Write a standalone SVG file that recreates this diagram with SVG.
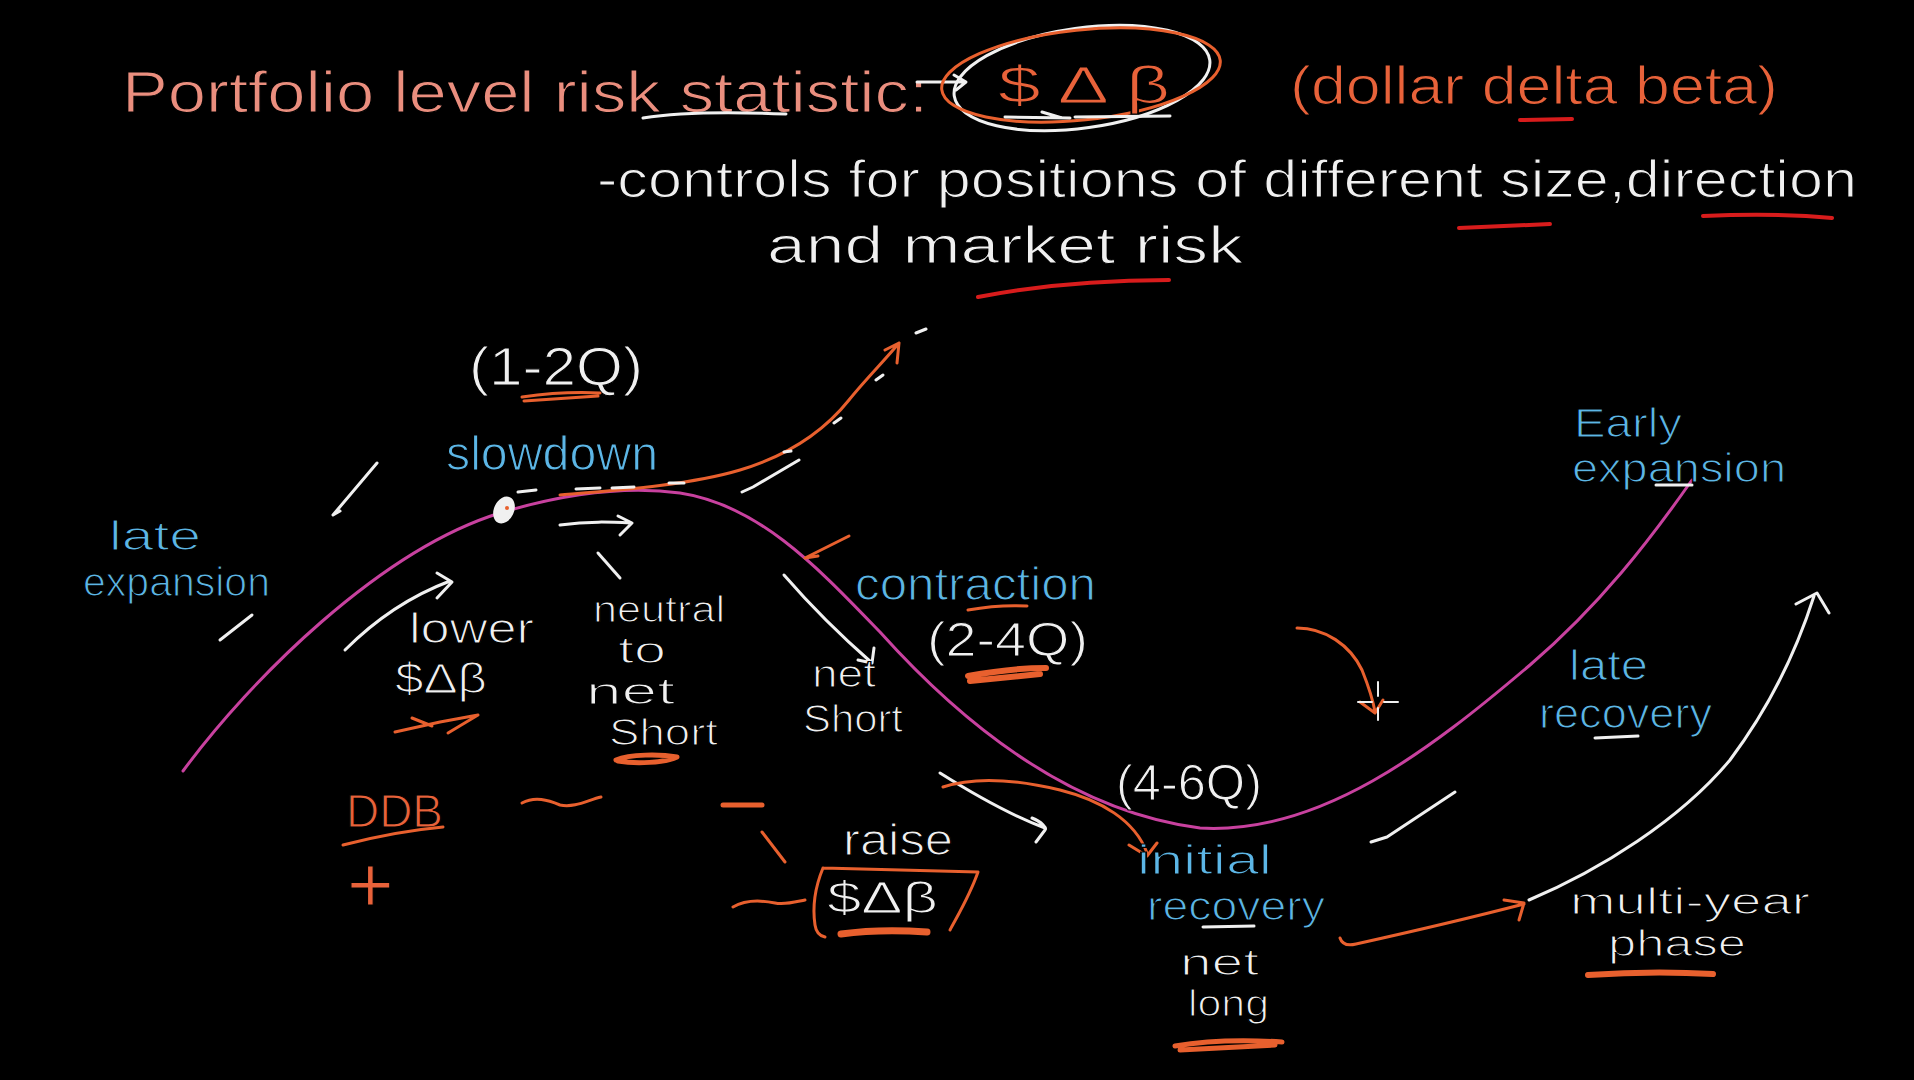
<svg xmlns="http://www.w3.org/2000/svg" width="1914" height="1080" viewBox="0 0 1914 1080">
<style>
text{font-family:"Liberation Sans",Arial,sans-serif;stroke:#000;stroke-width:1.2}
.w{fill:#f0f0f0}.b{fill:#5cb6e6}.o{fill:#e8623a}.s{fill:#ea8e7e}
.lw,.lo,.lr,.lp{fill:none;stroke-linecap:round;stroke-linejoin:round}
.lw{stroke:#f0f0f0;stroke-width:3}
.lo{stroke:#e8602e;stroke-width:3}
.lr{stroke:#d81c1c;stroke-width:4}
.lp{stroke:#c8419f;stroke-width:3}
.th{stroke-width:6}
</style>
<rect width="1914" height="1080" fill="#000"/>

<g id="title">
<text class="s" x="122" y="112" font-size="58" textLength="806" lengthAdjust="spacingAndGlyphs">Portfolio level risk statistic:</text>
<path class="lw" d="M643,118 C680,112 740,112 786,114"/>
<path class="lw" d="M917,82 L962,82 M954,75 L966,82 L956,90"/>
</g>

<g id="ddb-symbol">
<ellipse class="lw" cx="1082" cy="78" rx="129" ry="50" transform="rotate(-8 1082 78)"/>
<ellipse class="lo" cx="1081" cy="75" rx="140" ry="45" transform="rotate(-6 1081 75)"/>
<text class="o" x="998" y="103" font-size="52" textLength="172" lengthAdjust="spacingAndGlyphs">$ Δ β</text>
<path class="lw" d="M1005,117 L1070,118 M1042,112 L1062,118 M1075,117 L1170,116"/>
<text class="o" x="1290" y="104" font-size="54" textLength="488" lengthAdjust="spacingAndGlyphs">(dollar delta beta)</text>
<path class="lr" d="M1520,120 L1572,119"/>
</g>

<g id="subtitle">
<text class="w" x="597" y="197" font-size="52" textLength="1260" lengthAdjust="spacingAndGlyphs">-controls for positions of different size,direction</text>
<text class="w" x="767" y="263" font-size="52" textLength="476" lengthAdjust="spacingAndGlyphs">and market risk</text>
<path class="lr" d="M1459,228 L1550,224 M1703,216 C1750,214 1800,215 1832,218 M978,297 C1040,285 1110,280 1169,280"/>
</g>

<g id="connectors">
<path class="lp" d="M183,771 C250,680 380,550 500,513 C560,495 620,485 680,493 C760,505 820,570 880,632 C950,710 1060,810 1200,828 C1320,835 1430,750 1530,665 C1600,605 1650,540 1692,480"/>
<path class="lo" d="M560,495 C620,490 690,485 740,470 C790,455 825,430 849,400 C865,380 885,360 899,343 M885,350 L899,343 L897,363"/>
<path class="lw" d="M669,483 L684,483 M784,452 L791,451 M834,423 L841,418 M876,380 L883,375 M916,333 L926,329 M518,492 L536,490 M576,489 L600,488 M612,488 L634,487"/>
<path class="lw" d="M742,492 L753,487 L799,460"/>
<ellipse cx="504" cy="510" rx="10" ry="14" fill="#f0f0f0" transform="rotate(25 504 510)"/>
<circle cx="507" cy="508" r="2" fill="#e8602e"/>
<path class="lw" d="M560,525 C590,521 610,522 632,523 M618,516 L632,523 L620,535"/>
<path class="lw" d="M598,553 L620,578"/>
<path class="lw" d="M377,463 L333,515 L340,511"/>
<path class="lw" d="M220,640 L252,615"/>
<path class="lw" d="M345,650 C370,625 405,598 450,581 M437,573 L452,582 L437,598"/>
<path class="lo" d="M395,732 L440,722 M412,718 L432,726 M440,722 L478,715 L448,733"/>
<path class="lo" d="M849,536 L805,558 L818,556"/>
<path class="lw" d="M784,575 C810,605 840,635 872,663 M872,663 L874,648 M872,663 L858,660"/>
<path class="lw" d="M940,773 C975,795 1010,815 1045,828 M1032,818 C1042,822 1047,828 1045,830 L1036,842"/>
<path class="lo" d="M943,787 C970,778 1010,778 1060,790 C1100,800 1135,820 1147,853 M1129,845 L1147,856 L1157,843"/>
<path class="lw" d="M1371,842 L1387,837 L1455,792"/>
<path class="lo" d="M1297,628 C1325,628 1350,645 1362,670 C1370,690 1373,700 1375,712 M1360,702 L1375,713 L1383,700"/>
<path class="lw" style="stroke-width:2" d="M1378,682 L1378,696 M1378,708 L1378,720 M1358,702 L1372,702 M1384,702 L1398,702"/>
<path class="lo" d="M1340,938 C1342,944 1348,946 1356,944 C1410,932 1470,918 1524,904 M1504,900 L1524,903 L1519,920"/>
<path class="lw" d="M1529,900 C1600,870 1680,820 1730,760 C1775,700 1800,640 1814,596 M1796,604 L1817,593 L1829,613"/>
</g>

<g id="slowdown">
<text class="w" x="469" y="385" font-size="54" textLength="174" lengthAdjust="spacingAndGlyphs">(1-2Q)</text>
<path class="lo" d="M522,397 C550,393 580,392 600,393 M524,401 L598,396"/>
<text class="b" x="446" y="470" font-size="48" textLength="212" lengthAdjust="spacingAndGlyphs">slowdown</text>
</g>

<g id="late-expansion">
<text class="b" x="109" y="550" font-size="40" textLength="92" lengthAdjust="spacingAndGlyphs">late</text>
<text class="b" x="83" y="596" font-size="40" textLength="187" lengthAdjust="spacingAndGlyphs">expansion</text>
</g>

<g id="lower">
<text class="w" x="409" y="643" font-size="42" textLength="125" lengthAdjust="spacingAndGlyphs">lower</text>
<text class="w" x="395" y="693" font-size="42" textLength="92" lengthAdjust="spacingAndGlyphs">$Δβ</text>
</g>

<g id="neutral">
<text class="w" x="593" y="622" font-size="36" textLength="132" lengthAdjust="spacingAndGlyphs">neutral</text>
<text class="w" x="618" y="663" font-size="36" textLength="48" lengthAdjust="spacingAndGlyphs">to</text>
<text class="w" x="586" y="704" font-size="36" textLength="89" lengthAdjust="spacingAndGlyphs">net</text>
<text class="w" x="609" y="745" font-size="36" textLength="109" lengthAdjust="spacingAndGlyphs">Short</text>
<path class="lo" style="stroke-width:5" d="M616,760 C630,754 660,754 677,757 C665,763 635,764 618,761"/>
</g>

<g id="net-short">
<text class="w" x="812" y="687" font-size="38" textLength="64" lengthAdjust="spacingAndGlyphs">net</text>
<text class="w" x="803" y="732" font-size="38" textLength="100" lengthAdjust="spacingAndGlyphs">Short</text>
</g>

<g id="contraction">
<text class="b" x="855" y="600" font-size="46" textLength="241" lengthAdjust="spacingAndGlyphs">contraction</text>
<path class="lo" d="M968,610 C990,606 1010,605 1027,606"/>
<text class="w" x="927" y="656" font-size="48" textLength="161" lengthAdjust="spacingAndGlyphs">(2-4Q)</text>
<path class="lo th" d="M968,676 C1000,670 1030,668 1046,668 M970,681 L1040,674"/>
</g>

<g id="early-expansion">
<text class="b" x="1574" y="437" font-size="40" textLength="108" lengthAdjust="spacingAndGlyphs">Early</text>
<text class="b" x="1572" y="482" font-size="40" textLength="214" lengthAdjust="spacingAndGlyphs">expansion</text>
<path class="lw" d="M1656,485 L1692,485"/>
</g>

<g id="late-recovery">
<text class="b" x="1569" y="680" font-size="42" textLength="79" lengthAdjust="spacingAndGlyphs">late</text>
<text class="b" x="1539" y="728" font-size="42" textLength="173" lengthAdjust="spacingAndGlyphs">recovery</text>
<path class="lw" d="M1595,738 L1638,736"/>
</g>

<g id="initial-recovery">
<text class="w" x="1116" y="800" font-size="50" textLength="146" lengthAdjust="spacingAndGlyphs">(4-6Q)</text>
<text class="b" x="1137" y="874" font-size="40" textLength="135" lengthAdjust="spacingAndGlyphs">initial</text>
<text class="b" x="1147" y="920" font-size="40" textLength="178" lengthAdjust="spacingAndGlyphs">recovery</text>
<path class="lw" d="M1203,927 L1254,926"/>
<text class="w" x="1180" y="975" font-size="36" textLength="79" lengthAdjust="spacingAndGlyphs">net</text>
<text class="w" x="1188" y="1016" font-size="36" textLength="81" lengthAdjust="spacingAndGlyphs">long</text>
<path class="lo" style="stroke-width:5" d="M1175,1046 C1210,1040 1250,1040 1282,1042 M1180,1050 L1275,1045"/>
</g>

<g id="multi-year">
<text class="w" x="1570" y="914" font-size="36" textLength="240" lengthAdjust="spacingAndGlyphs">multi-year</text>
<text class="w" x="1608" y="956" font-size="36" textLength="138" lengthAdjust="spacingAndGlyphs">phase</text>
<path class="lo th" d="M1588,975 C1630,972 1680,972 1713,974"/>
</g>

<g id="ddb">
<text class="o" x="346" y="827" font-size="46" textLength="97" lengthAdjust="spacingAndGlyphs">DDB</text>
<path class="lo" d="M343,845 C370,838 410,830 443,827"/>
<text class="o" x="347" y="912" font-size="80">+</text>
<path class="lo" d="M522,803 C535,796 548,800 560,805 C575,808 588,800 601,797"/>
<path class="lo" style="stroke-width:5" d="M723,805 L762,805"/>
<path class="lo" d="M762,832 L785,862"/>
</g>

<g id="raise">
<text class="w" x="843" y="855" font-size="44" textLength="110" lengthAdjust="spacingAndGlyphs">raise</text>
<path class="lo" d="M823,868 L978,872 M823,868 C816,885 812,905 815,925 C816,932 820,936 825,937 M978,872 C970,895 958,915 950,930"/>
<text class="w" x="827" y="913" font-size="44" textLength="111" lengthAdjust="spacingAndGlyphs">$Δβ</text>
<path class="lo" style="stroke-width:7" d="M841,934 C870,930 900,930 927,932"/>
<path class="lo" d="M733,907 C745,900 760,900 775,903 C785,905 795,902 805,900"/>
</g>
</svg>
